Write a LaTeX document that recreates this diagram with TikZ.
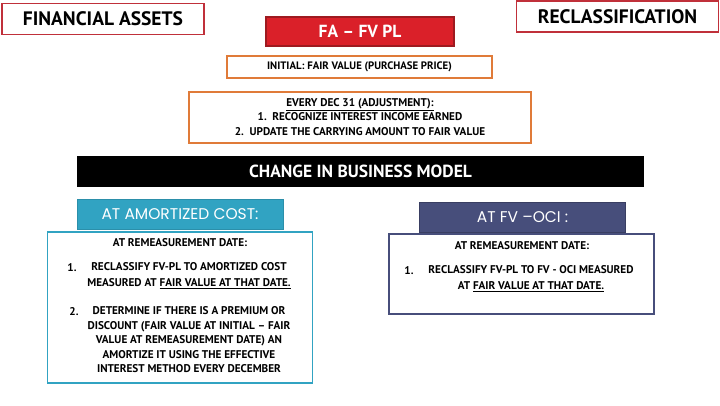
\documentclass[tikz,border=0pt]{standalone}
\usepackage{fontspec}
\setmainfont{PT Sans}
\newfontfamily\headfont[Ligatures=TeX]{Poppins}
\usepackage{xcolor}
\usepackage{tikz}
\usetikzlibrary{positioning}

\definecolor{framered}{HTML}{C0303A}
\definecolor{fared}{HTML}{DA2029}
\definecolor{faedge}{HTML}{9E1A20}
\definecolor{initorange}{HTML}{E07B39}
\definecolor{acteal}{HTML}{31A3C2}
\definecolor{acedge}{HTML}{2B8FAA}
\definecolor{ociblue}{HTML}{474E7B}

\tikzset{
  titlebox/.style={draw=framered, line width=1.2pt, minimum width=202, minimum height=31,
    font=\bfseries\fontsize{19.5}{21}\selectfont},
  notebox/.style={draw=initorange, line width=1.2pt},
  body/.style={font=\bfseries\fontsize{11.2}{14.5}\selectfont, align=center, inner sep=0pt},
  headbox/.style={minimum width=206, minimum height=30, text=white,
    font=\headfont\fontsize{15.5}{17}\selectfont},
  framebox/.style={line width=1.2pt, minimum width=265}
}

\begin{document}
\begin{tikzpicture}[x=1pt, y=-1pt]
        \useasboundingbox (0,0) rectangle (720,405);

        \node (fa) [titlebox] at (103,19) {FINANCIAL ASSETS};
        \node (reclass) [titlebox] at (617.5,16.5) {RECLASSIFICATION};

        \node (fvpl) [fill=fared, draw=faedge, line width=1.2pt, minimum width=188, minimum height=29,
          text=white, font=\bfseries\fontsize{17.5}{19}\selectfont] at (360,31.5) {FA -- FV PL};

        \node (initial) [notebox, minimum width=265, minimum height=22, body, font=\bfseries\fontsize{10.8}{13}\selectfont] at (359.5,67) {INITIAL: FAIR VALUE (PURCHASE PRICE)};
        \node (everydec) [notebox, minimum width=342, minimum height=51] at (360,117.5) {};
        \node (everytext) [body] at (360,117) {\underline{EVERY DEC 31 (ADJUSTMENT):}\\
          1.\enspace RECOGNIZE INTEREST INCOME EARNED\\
          2.\enspace UPDATE THE CARRYING AMOUNT TO FAIR VALUE};

        \node (model) [fill=black, minimum width=567, minimum height=31, text=white,
          font=\bfseries\fontsize{17.5}{19}\selectfont] at (360.5,171) {CHANGE IN BUSINESS MODEL};

        % amortized cost side
        \node (acbox) [framebox, draw=acteal, minimum height=151] at (180,307.5) {};
        \node (achead) [headbox, fill=acteal, draw=acedge, line width=1pt] at (180,214.5) {AT AMORTIZED COST:};
        \node (acdate) [body] at (180,243) {AT REMEASUREMENT DATE:};
        \node (acone) [body] at (189,276) {RECLASSIFY FV-PL TO AMORTIZED COST\\[1.5pt]
          MEASURED AT \underline{FAIR VALUE AT THAT DATE.}};
        \node (aconenum) [body] at (72,268) {1.};
        \node (actwo) [body] at (189,340) {DETERMINE IF THERE IS A PREMIUM OR\\
          DISCOUNT (FAIR VALUE AT INITIAL -- FAIR\\
          VALUE AT REMEASUREMENT DATE) AN\\
          AMORTIZE IT USING THE EFFECTIVE\\
          INTEREST METHOD EVERY DECEMBER};
        \node (actwonum) [body] at (74,312) {2.};

        % fv - oci side
        \node (ocibox) [framebox, draw=ociblue, minimum height=80] at (521.5,274) {};
        \node (ocihead) [headbox, fill=ociblue, draw=ociblue!80!black, line width=1pt] at (522.5,217.5) {AT FV --OCI :};
        \node (ocidate) [body] at (522,245.5) {AT REMEASUREMENT DATE:};
        \node (ocione) [body] at (531,279) {RECLASSIFY FV-PL TO FV - OCI MEASURED\\[1.5pt]
          AT \underline{FAIR VALUE AT THAT DATE.}};
        \node (ocionenum) [body] at (409,271) {1.};
    \end{tikzpicture}
\end{document}
